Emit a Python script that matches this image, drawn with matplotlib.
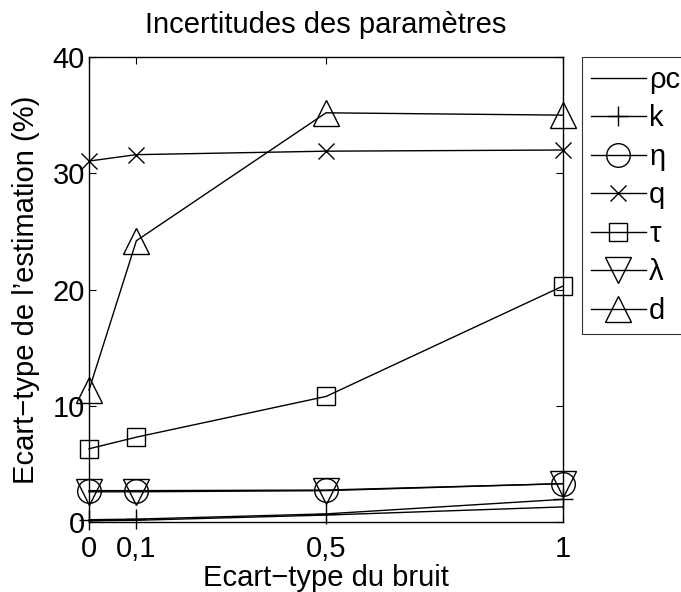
import matplotlib
matplotlib.use("Agg")
import matplotlib.pyplot as plt

plt.rcParams['font.family'] = ['Liberation Sans', 'DejaVu Sans']
plt.rcParams['axes.unicode_minus'] = True

# noise standard deviation levels
noise = [0, 0.1, 0.5, 1]
tick_labels = ["0", "0,1", "0,5", "1"]

# estimation standard deviation (%) per parameter
rho_c = [0.1, 0.15, 0.6, 1.3]
k_vals = [0.2, 0.25, 0.7, 1.95]
eta = [2.7, 2.7, 2.75, 3.3]
q_vals = [31.05, 31.6, 31.9, 32.0]
tau = [6.3, 7.3, 10.8, 20.3]
lam = [2.6, 2.6, 2.7, 3.3]
d_vals = [11.35, 24.2, 35.2, 35.0]

FS = 21

fig = plt.figure(figsize=(6.81, 5.92), dpi=100)
ax = fig.add_axes([0.1307, 0.1182, 0.696, 0.7855])

style = dict(color='black', linewidth=1.0, markerfacecolor='none',
             markeredgewidth=1.0, clip_on=False)
ax.plot(noise, rho_c, label='ρc', **style)
ax.plot(noise, k_vals, marker='+', markersize=15, label='k', **style)
ax.plot(noise, eta, marker='o', markersize=17, label='η', **style)
ax.plot(noise, q_vals, marker='x', markersize=12, label='q', **style)
ax.plot(noise, tau, marker='s', markersize=13, label='τ', **style)
ax.plot(noise, lam, marker='v', markersize=19, label='λ', **style)
ax.plot(noise, d_vals, marker='^', markersize=19, label='d', **style)

ax.set_xlim(0, 1)
ax.set_ylim(0, 40)
ax.set_xticks(noise)
ax.set_xticklabels(tick_labels)
ax.set_yticks([0, 10, 20, 30, 40])
ax.tick_params(direction='in', top=True, right=True, labelsize=FS, length=5, width=0.8, pad=3)
ax.tick_params(axis='x', pad=9)
for s in ax.spines.values():
    s.set_linewidth(1.0)

ax.set_title("Incertitudes des paramètres", fontsize=FS, pad=17)
ax.set_xlabel("Ecart\u2212type du bruit", fontsize=FS, labelpad=1)
ax.set_ylabel("Ecart\u2212type de l\u2019estimation (%)", fontsize=FS, labelpad=9)

leg = fig.legend(loc='upper left', bbox_to_anchor=(582 / 681, 1 - 57 / 592),
                 fontsize=FS, frameon=True, fancybox=False, handlelength=1.9,
                 handletextpad=0.1, labelspacing=0.36, borderpad=0.3,
                 borderaxespad=0)
leg.get_frame().set_edgecolor('black')
leg.get_frame().set_linewidth(0.8)

fig.savefig("out.png", dpi=100)
